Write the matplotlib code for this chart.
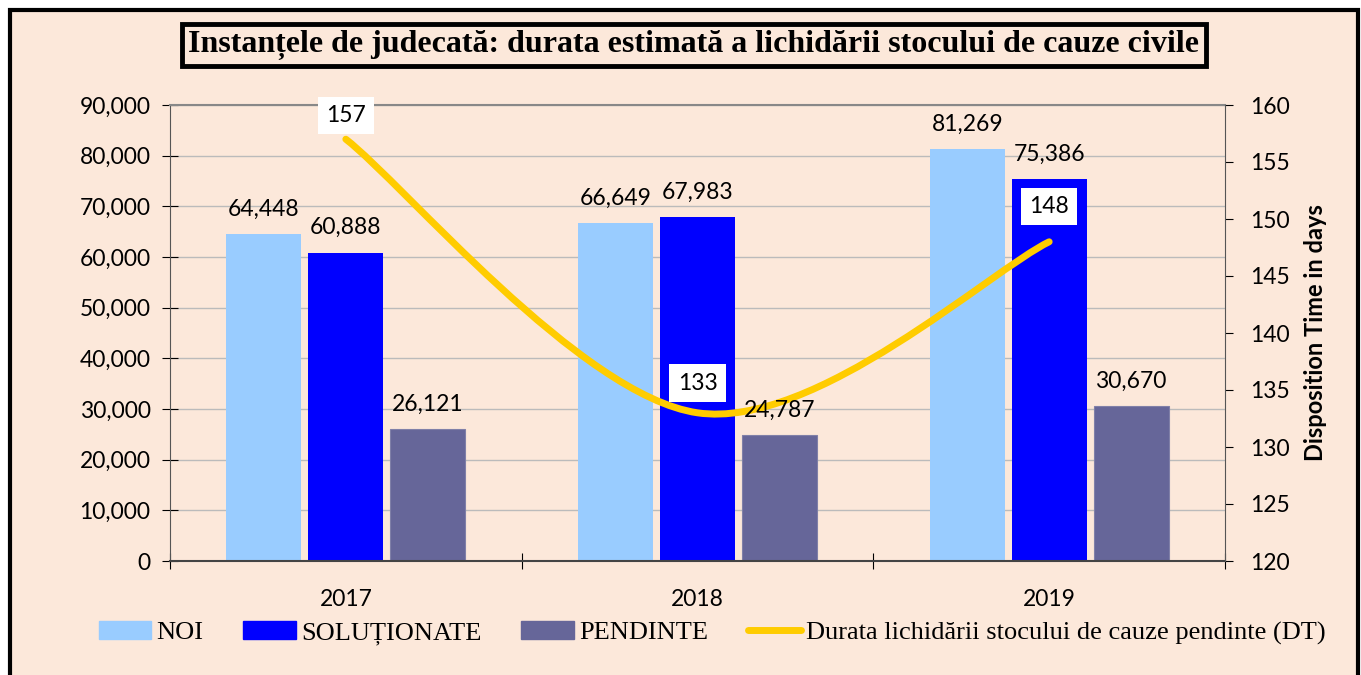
import matplotlib
matplotlib.use("Agg")
import matplotlib.pyplot as plt
from matplotlib.patches import Rectangle, PathPatch
from matplotlib.path import Path
from matplotlib.lines import Line2D
from matplotlib.ticker import FuncFormatter, MultipleLocator

years = ["2017", "2018", "2019"]
noi = [64448, 66649, 81269]
solutionate = [60888, 67983, 75386]
pendinte = [26121, 24787, 30670]
dt_days = [157, 133, 148]

bg = "#FCE8DA"
c_noi = "#99CCFF"
c_sol = "#0000FF"
c_pend = "#666699"
c_line = "#FFCC00"

sans = ["Lato", "DejaVu Sans"]
serif = ["Liberation Serif", "DejaVu Serif"]
fs = 16.5

fig = plt.figure(figsize=(13.61, 6.75), dpi=100)
fig.patch.set_facecolor("white")
W, H = 1361, 675

# outer frame of the chart
fig.patches.append(Rectangle((10 / W, -0.05), (1348 / W), 1.05 - 10 / H,
                             transform=fig.transFigure, facecolor=bg,
                             edgecolor="black", linewidth=3, zorder=-5))

ax = fig.add_axes([170 / W, 1 - 561 / H, 1055 / W, 456 / H])
ax.patch.set_alpha(0)

x = list(range(len(years)))
bw = 0.213
off = 0.233
ax.bar([i - off for i in x], noi, bw, color=c_noi, zorder=2)
ax.bar(x, solutionate, bw, color=c_sol, zorder=2)
ax.bar([i + off for i in x], pendinte, bw, color=c_pend, edgecolor="#8080A8", linewidth=0.8, zorder=2)

ax.set_xlim(-0.5, 2.5)
ax.set_ylim(0, 90000)
ax.yaxis.set_major_locator(MultipleLocator(10000))
ax.yaxis.set_major_formatter(FuncFormatter(lambda v, p: f"{int(v):,}"))
ax.grid(axis="y", color="#BBBBBB", linewidth=1, zorder=0)
ax.set_axisbelow(True)
ax.set_xticks([-0.5, 0.5, 1.5, 2.5])
ax.set_xticklabels([])
ax.set_xticks(x, minor=True)
ax.set_xticklabels(years, minor=True, fontsize=fs, family=sans)
ax.tick_params(axis="x", which="major", direction="inout", length=12, color="black")
ax.tick_params(axis="x", which="minor", length=0, pad=20)
ax.tick_params(axis="y", direction="inout", length=12, labelsize=fs, pad=8)
for lbl in ax.get_yticklabels():
    lbl.set_family(sans)
ax.spines["top"].set_color("#888888")
ax.spines["top"].set_linewidth(1.5)
ax.spines["right"].set_visible(False)
ax.spines["left"].set_color("#555555")
ax.spines["bottom"].set_color("#444444")
ax.spines["bottom"].set_linewidth(1.5)

ax2 = ax.twinx()
ax2.set_ylim(120, 160)
ax2.yaxis.set_major_locator(MultipleLocator(5))
ax2.tick_params(axis="y", direction="out", length=6, labelsize=fs, pad=12)
for lbl in ax2.get_yticklabels():
    lbl.set_family(sans)
ax2.spines["right"].set_color("#555555")
for s in ["top", "left", "bottom"]:
    ax2.spines[s].set_visible(False)
ax2.set_ylabel("Disposition Time in days", fontsize=17, fontweight="bold",
               family=sans, labelpad=10)

# bar value labels (on ax2 so they sit above the line, in bar coordinates)
for series, dx in [(noi, -off), (solutionate, 0), (pendinte, off)]:
    for i, v in enumerate(series):
        ax2.text(i + dx, v + 2800, f"{v:,}", ha="center", va="bottom",
                 fontsize=fs, family=sans, zorder=4, transform=ax.transData)

# smoothed line (Excel-style Bezier through the data points)
pts = list(zip(x, dt_days))
verts = [pts[0]]
codes = [Path.MOVETO]
for k in range(len(pts) - 1):
    p0 = pts[k - 1] if k > 0 else pts[k]
    p1 = pts[k]
    p2 = pts[k + 1]
    p3 = pts[k + 2] if k + 2 < len(pts) else pts[k + 1]
    c1 = (p1[0] + (p2[0] - p0[0]) / 6, p1[1] + (p2[1] - p0[1]) / 6)
    c2 = (p2[0] - (p3[0] - p1[0]) / 6, p2[1] - (p3[1] - p1[1]) / 6)
    verts += [c1, c2, p2]
    codes += [Path.CURVE4] * 3
ax2.add_patch(PathPatch(Path(verts, codes), facecolor="none", edgecolor=c_line,
                        linewidth=5, capstyle="round", zorder=3))

label_dy = [2.1, 2.6, 3.1]
for i, v in enumerate(dt_days):
    ax2.text(i, v + label_dy[i], str(v), ha="center", va="center", fontsize=fs,
             family=sans, zorder=5,
             bbox=dict(facecolor="white", edgecolor="none", pad=6))

# title box
fig.text(694 / W, 1 - 45 / H,
         "Instanțele de judecată: durata estimată a lichidării stocului de cauze civile",
         ha="center", va="center", fontsize=23, fontweight="bold", family=serif,
         bbox=dict(facecolor=bg, edgecolor="black", linewidth=3.5,
                   boxstyle="square,pad=0.2"))

handles = [
    Rectangle((0, 0), 1, 1, color=c_noi),
    Rectangle((0, 0), 1, 1, color=c_sol),
    Rectangle((0, 0), 1, 1, color=c_pend),
    Line2D([0], [0], color=c_line, linewidth=5, solid_capstyle="round"),
]
names = ["NOI", "SOLUȚIONATE", "PENDINTE",
         "Durata lichidării stocului de cauze pendinte (DT)"]
fig.legend(handles, names, loc="center", bbox_to_anchor=(712 / W, 1 - 633 / H),
           ncol=4, frameon=False, prop={"family": serif, "size": 19},
           handlelength=2.0, handleheight=0.7, handletextpad=0.2,
           columnspacing=1.5)

fig.savefig("out.png", dpi=100, facecolor="white")
